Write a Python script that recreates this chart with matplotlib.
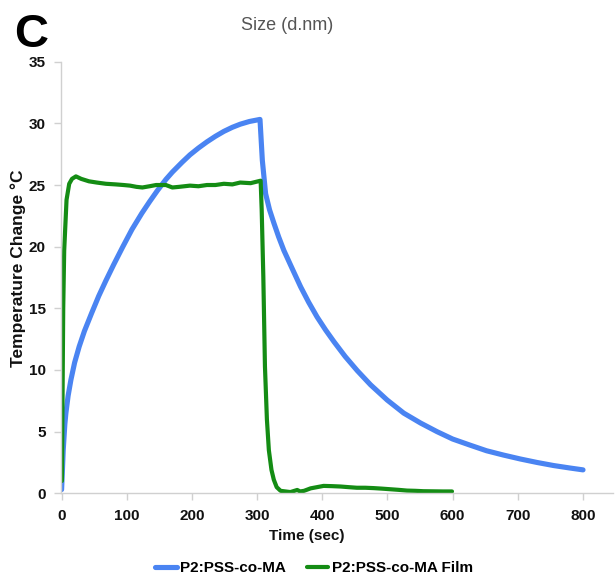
import matplotlib
matplotlib.use("Agg")
import matplotlib.pyplot as plt

plt.rcParams['font.family'] = ['Liberation Sans', 'DejaVu Sans']

# Blue series: P2:PSS-co-MA
t_blue = [0, 1, 2.5, 5, 6.6, 10, 14.3, 20, 27, 35, 46, 57, 68, 80, 93.5, 108, 123, 135, 147, 160,
          170, 185, 197, 210, 223, 236, 249, 262, 274, 288, 304.4,
          308, 313, 319, 325.8, 333, 341, 354, 366.7, 379, 392, 405, 417.8, 435, 453.6, 474, 499.6,
          525, 550.7, 576, 600, 627, 652, 678, 704, 729.5, 755, 780, 800]
v_blue = [0.3, 1.5, 3.5, 5.6, 6.5, 7.9, 9.2, 10.6, 11.9, 13.15, 14.6, 16.0, 17.25, 18.55, 19.95, 21.4, 22.7, 23.65, 24.55, 25.45,
          26.05, 26.85, 27.45, 28.0, 28.5, 28.95, 29.35, 29.68, 29.93, 30.15, 30.32,
          27.0, 24.3, 23.0, 21.9, 20.8, 19.7, 18.2, 16.75, 15.5, 14.3, 13.25, 12.3, 11.1, 9.95, 8.8, 7.56,
          6.5, 5.7, 5.0, 4.4, 3.9, 3.45, 3.1, 2.78, 2.5, 2.25, 2.05, 1.9]

# Green series: P2:PSS-co-MA Film
t_green = [0.5, 1.5, 2.5, 4, 7.6, 11.7, 16, 22, 30, 42, 54, 68, 83, 95, 105, 115, 124,
           135, 145, 160, 170, 180, 197, 210, 223, 236, 249, 262, 274, 290, 305.4,
           307, 309.5, 312, 315, 318, 322, 325.6, 330, 336, 351, 361.5, 366, 372, 382, 392, 402, 415, 428,
           440, 453, 466, 479, 491, 504, 517, 530, 543, 555, 570, 585, 599]
v_green = [1.0, 8.0, 15.0, 19.7, 23.8, 25.1, 25.5, 25.7, 25.5, 25.3, 25.2, 25.1, 25.05, 25.0, 24.95, 24.85, 24.8,
           24.9, 25.0, 25.0, 24.8, 24.85, 24.95, 24.9, 25.0, 25.0, 25.1, 25.05, 25.2, 25.15, 25.35,
           23.0, 17.6, 10.3, 6.0, 3.5, 1.9, 1.1, 0.5, 0.2, 0.1, 0.27, 0.15, 0.2, 0.4, 0.5, 0.6, 0.58, 0.55,
           0.5, 0.45, 0.45, 0.42, 0.38, 0.33, 0.28, 0.22, 0.2, 0.17, 0.16, 0.15, 0.15]

x_ticks = [0, 100, 200, 300, 400, 500, 600, 700, 800]
y_ticks = [0, 5, 10, 15, 20, 25, 30, 35]

blue = '#4a84f2'
green = '#148c14'
grey = '#d0d0d0'

fig = plt.figure(figsize=(6.15, 5.77), dpi=100)
ax = fig.add_axes([61 / 615, 1 - 493.3 / 577, (613 - 61) / 615, (493.3 - 61.7) / 577])

ax.plot(t_blue, v_blue, color=blue, lw=3.7, solid_capstyle='round', solid_joinstyle='round',
        label='P2:PSS-co-MA')
ax.plot(t_green, v_green, color=green, lw=3.0, solid_capstyle='round', solid_joinstyle='round',
        label='P2:PSS-co-MA Film')

ax.set_xlim(-0.9, 846)
ax.set_ylim(0, 35)
ax.set_xticks(x_ticks)
ax.set_yticks(y_ticks)
for s in ['top', 'right']:
    ax.spines[s].set_visible(False)
for s in ['left', 'bottom']:
    ax.spines[s].set_color(grey)
    ax.spines[s].set_linewidth(1.0)
ax.tick_params(axis='both', colors=grey, length=5, width=1.0, labelcolor='#111111')
ax.tick_params(axis='y', pad=6)
ax.tick_params(axis='x', pad=6)
for lab in ax.get_xticklabels() + ax.get_yticklabels():
    lab.set_fontweight('bold')
    lab.set_fontsize(11)

ax.set_xlabel('Time (sec)', fontsize=11, fontweight='bold', color='#111111')
ax.xaxis.set_label_coords((307 - 61) / 552, -(529 - 493.3) / 431.6)
ax.set_ylabel('Temperature Change °C', fontsize=12.5, fontweight='bold', color='#111111')
ax.yaxis.set_label_coords((26 - 61) / 552, (493.3 - 268) / 431.6)

fig.text(14 / 615, 1 - 47 / 577, 'C', fontsize=34, fontweight='bold', color='black')
fig.text(287 / 615, 1 - 25 / 577, 'Size (d.nm)', fontsize=13, color='#555555', ha='center', va='center')

leg = fig.legend(loc='center', bbox_to_anchor=(314 / 615, 1 - 568 / 577), ncol=2, frameon=False,
                 handlelength=1.4, handletextpad=0.2, columnspacing=1.4,
                 prop={'weight': 'bold', 'size': 11})

fig.savefig('out.png', dpi=100)
